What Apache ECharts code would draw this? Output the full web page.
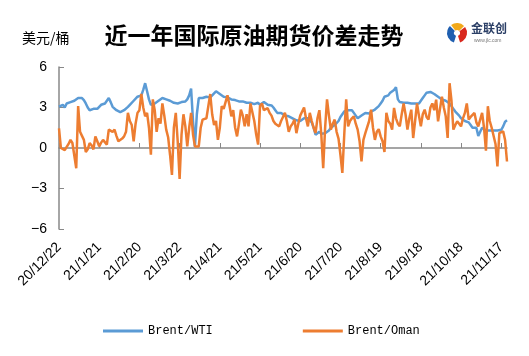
<!DOCTYPE html>
<html><head><meta charset="utf-8">
<script src="https://cdn.jsdelivr.net/npm/echarts@6/dist/echarts.min.js"></script>
<style>html,body{margin:0;padding:0;background:#fff}#c{width:529px;height:356px}</style>
</head><body><div id="c"></div>
<script>
const tickLabels = ['20/12/22','21/1/21','21/2/20','21/3/22','21/4/21','21/5/21','21/6/20','21/7/20','21/8/19','21/9/18','21/10/18','21/11/17'];
const brentWTI = [
3.06,3.1,3.2,3.0,3.3,3.25,3.4,3.35,3.5,3.6,3.7,
3.8,3.7,3.55,3.3,3.0,2.8,2.85,2.9,2.95,2.9,
3.05,3.2,3.15,3.3,3.5,3.7,3.4,3.05,2.95,2.8,
2.7,2.65,2.75,2.8,2.9,3.05,3.2,3.3,3.5,3.6,
3.8,3.75,3.9,4.3,4.8,4.2,3.6,3.2,3.1,3.3,
3.4,3.5,3.6,3.7,3.65,3.6,3.55,3.5,3.4,3.35,
3.3,3.3,3.35,3.4,3.3,3.45,3.6,3.9,4.4,2.0,
0.1,2.5,3.7,3.6,3.7,3.75,3.8,3.7,3.75,3.9,
4.0,4.2,4.15,4.0,3.9,3.8,3.85,3.75,3.7,3.6,
3.6,3.55,3.5,3.45,3.5,3.45,3.4,3.35,3.3,3.35,
3.3,3.25,3.3,3.35,3.2,3.25,3.4,3.3,3.2,3.3,
3.15,3.0,2.8,2.6,2.55,2.6,2.5,2.4,2.45,2.35,
2.3,2.2,2.1,2.05,1.95,2.0,2.1,2.2,2.25,2.2,
2.2,1.9,1.5,0.98,1.1,1.2,1.05,1.0,1.1,1.1,
1.3,1.5,1.6,1.7,1.8,2.0,2.3,2.5,2.7,2.8,
2.8,2.9,2.8,2.6,2.4,2.2,2.3,2.4,2.5,2.6,
2.6,2.55,2.7,2.8,2.85,2.9,3.1,3.3,3.5,3.8,
3.7,3.9,4.1,4.0,4.3,4.5,3.6,3.4,3.4,3.35,
3.4,3.35,3.3,3.3,3.35,3.3,3.2,3.3,3.5,3.7,
3.9,4.1,4.2,4.15,4.2,4.0,3.9,3.8,3.7,3.6,
3.6,3.5,3.4,3.3,3.1,2.9,2.7,2.6,2.4,2.2,
2.1,2.0,2.1,1.9,1.7,1.5,1.4,1.5,0.9,1.2,
1.5,1.4,1.3,1.35,1.3,1.25,1.3,1.2,1.3,1.3,
1.35,1.6,1.95,2.05];
const brentOman = [
1.45,0.0,-0.1,-0.15,-0.2,0.3,0.6,0.37,0.5,-1.5,3.1,
1.2,0.9,0.6,-0.3,-0.1,0.37,0.2,-0.1,0.86,0.5,
0.12,0.4,0.6,0.5,0.25,1.36,1.3,1.2,1.36,0.9,
0.5,0.6,0.7,0.86,1.2,2.6,2.0,1.7,0.5,1.8,
2.6,2.8,4.0,3.0,2.35,2.6,1.5,-0.5,3.6,2.8,
1.2,2.2,1.8,3.3,2.4,1.36,0.8,-0.5,-2.0,1.5,
2.6,0.5,-2.3,1.0,2.5,1.6,0.12,1.5,2.6,1.0,
0.12,0.1,0.12,1.5,2.1,2.0,2.2,2.1,4.0,2.5,
1.7,2.0,0.6,1.5,3.1,2.9,3.0,3.9,3.2,2.35,
2.8,1.5,0.86,1.8,2.84,2.4,1.6,2.5,1.6,3.3,
3.3,2.0,1.0,0.25,3.1,3.3,2.8,2.7,2.95,2.6,
2.4,2.0,1.8,1.7,1.6,2.0,2.3,2.6,2.0,1.2,
1.6,1.8,2.1,1.1,1.8,2.4,2.7,3.0,2.2,1.6,
2.6,2.0,1.5,1.1,2.2,2.8,1.0,-1.5,1.5,3.6,
2.4,1.36,1.8,2.1,1.2,0.7,-0.5,-1.85,1.0,3.6,
1.6,2.0,2.2,2.35,1.8,1.36,0.5,-1.0,0.6,1.1,
1.1,2.0,2.84,1.5,0.6,1.2,1.4,0.86,0.5,-0.3,
2.6,2.0,1.8,1.36,2.97,2.2,1.8,1.6,2.5,3.3,
2.5,1.36,2.2,2.84,0.74,2.0,3.3,2.4,1.6,2.5,
2.84,2.3,2.1,3.0,3.3,2.8,3.58,1.98,2.9,3.8,
3.0,2.35,0.74,4.8,3.5,1.36,1.7,1.98,1.8,1.6,
2.2,2.6,3.3,2.1,2.3,2.4,2.6,1.9,1.6,2.1,
2.6,1.5,-0.2,3.09,2.0,1.5,1.36,0.3,-1.36,1.11,
1.0,1.23,0.6,-1.0];
const seriesNames = ['Brent/WTI','Brent/Oman'];
const LABEL_STEP = 21;
const categories = brentWTI.map((_, i) => i % LABEL_STEP === 0 ? (tickLabels[i / LABEL_STEP] || '') : String(i));

const chart = echarts.init(document.getElementById('c'));
chart.setOption({
  animation: false,
  backgroundColor: '#fff',
  title: {
    text: '近一年国际原油期货价差走势',
    left: 249, top: 19, textAlign: 'center',
    textStyle: { fontSize: 23, fontWeight: 'bold', color: '#000', fontFamily: 'Noto Sans CJK SC' }
  },
  graphic: [
    { type: 'text', left: 22, top: 31, style: { text: '美元/桶', fontSize: 14, fill: '#000', fontFamily: 'Noto Sans CJK SC' } },
    { type: 'sector', shape: { cx: 457, cy: 33, r: 10, r0: 3, startAngle: Math.PI * 0.6, endAngle: Math.PI * 1.25 }, style: { fill: '#1f5fb0' } },
    { type: 'sector', shape: { cx: 457, cy: 33, r: 10, r0: 3, startAngle: Math.PI * 1.3, endAngle: Math.PI * 1.75 }, style: { fill: '#f2a91b' } },
    { type: 'sector', shape: { cx: 457, cy: 33, r: 10, r0: 3, startAngle: Math.PI * 1.8, endAngle: Math.PI * 2.4 }, style: { fill: '#d9281e' } },
    { type: 'text', left: 471, top: 22, style: { text: '金联创', fontSize: 12, fontWeight: 'bold', fill: '#2b3f66', fontFamily: 'Noto Sans CJK SC' } },
    { type: 'text', left: 474, top: 38, style: { text: 'www.jlc.com', fontSize: 5, fill: '#777' } }
  ],
  legend: {
    bottom: 14, left: 98, itemGap: 90, itemWidth: 40, itemHeight: 3,
    icon: 'rect',
    textStyle: { fontSize: 12, color: '#000', fontFamily: 'Liberation Mono' },
    data: seriesNames
  },
  grid: { left: 59, right: 22, top: 67, bottom: 127 },
  xAxis: {
    type: 'category', data: categories, boundaryGap: false,
    axisLine: { lineStyle: { color: '#888', width: 1.5 } },
    axisTick: { inside: true, length: 5, interval: LABEL_STEP - 1, lineStyle: { color: '#888' } },
    axisLabel: { interval: LABEL_STEP - 1, rotate: 45, fontSize: 14, color: '#000', margin: 16, fontFamily: 'Liberation Sans' },
    splitLine: { show: false }
  },
  yAxis: {
    type: 'value', min: -6, max: 6, interval: 3,
    axisLine: { show: true, lineStyle: { color: '#888', width: 1.5 } },
    axisTick: { show: true, inside: true, length: 5, lineStyle: { color: '#888' } },
    axisLabel: { fontSize: 14, color: '#000', margin: 12, fontFamily: 'Liberation Sans', formatter: v => v < 0 ? '\u2212' + Math.abs(v) : String(v) },
    splitLine: { show: false }
  },
  series: [
    { name: seriesNames[0], type: 'line', data: brentWTI, showSymbol: false, symbol: 'none', lineStyle: { width: 2.5, color: '#5B9BD5' }, itemStyle: { color: '#5B9BD5' } },
    { name: seriesNames[1], type: 'line', data: brentOman, showSymbol: false, symbol: 'none', lineStyle: { width: 2.5, color: '#ED7D31' }, itemStyle: { color: '#ED7D31' } }
  ]
});
</script></body></html>
